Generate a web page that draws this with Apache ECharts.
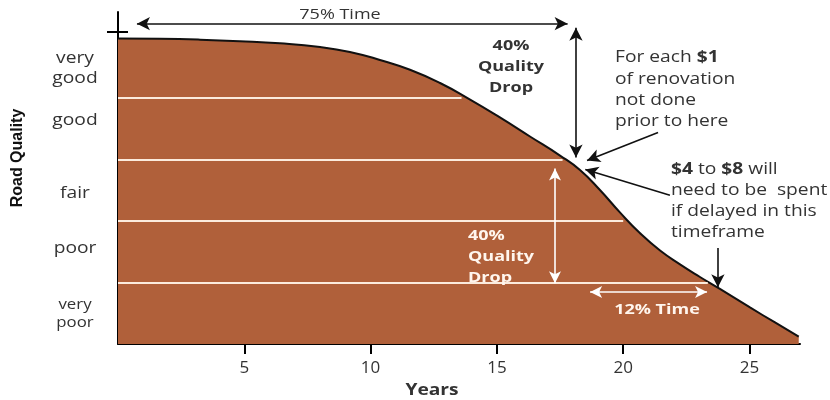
<!DOCTYPE html>
<html>
<head>
<meta charset="utf-8">
<script src="https://cdn.jsdelivr.net/npm/echarts@6/dist/echarts.min.js"></script>
<style>
  html, body { margin: 0; padding: 0; background: #fff; }
  #chart { width: 830px; height: 400px; }
</style>
</head>
<body>
<div id="chart"></div>
<script>
// Pavement deterioration curve: road quality over service years
const years   = [0, 1.66, 3.25, 4.83, 6.41, 8.0, 9.18, 10.37, 11.56, 12.75, 13.94, 15.12, 16.31, 17.5, 18.29, 19.08, 19.87, 20.67, 21.46, 22.25, 23.04, 23.83, 25.02, 26.01, 26.95];
const quality = [99.4, 99.3, 99.0, 98.5, 97.8, 96.6, 95.0, 92.4, 89.2, 84.9, 79.5, 73.7, 67.5, 61.3, 56.6, 50.1, 42.8, 36.0, 30.4, 25.9, 21.8, 17.9, 11.9, 7.0, 2.4];

// Quality bands (boundaries and where each boundary meets the curve)
const bandLevels = [80, 60, 40, 20];
const bandEnds   = [13.6, 17.6, 20.0, 23.35];

// Quality category names and their vertical position on the scale
const qualityLabels = ['very\ngood', 'good', 'fair', 'poor', 'very\npoor'];
const qualityLevels = [89.6, 72.7, 49, 31.2, 9.7];

const yearTicks = [5, 10, 15, 20, 25];

// Annotation arrows, [x1, y1, x2, y2] in data units
const timeSpan75   = [0.75, 104.2, 17.8, 104.2];
const dropSpanTop  = [18.13, 102.9, 18.13, 60.7];
const priorArrow   = [21.38, 68.8, 18.57, 59.7];
const delayArrow   = [21.85, 48.4, 18.5, 56.8];
const frameArrow   = [23.75, 31.2, 23.75, 18.5];
const dropSpanLow  = [17.3, 57.1, 17.3, 19.8];
const timeSpan12   = [18.69, 16.9, 23.32, 16.9];
const axisCross    = [0, 101.5];

const BROWN = '#B0603A';
const TEXT = '#333333';
const LIGHT = '#FFF6EE';
const FONT = '"Open Sans", sans-serif';
const WIDE = 1.2; // horizontal stretch of the annotation lettering

function seg(a, twoHeads) {
  return [
    { coord: [a[0], a[1]], symbol: twoHeads ? 'arrow' : 'none' },
    { coord: [a[2], a[3]], symbol: 'arrow' }
  ];
}

function note(x, y, text, font, fill, align, vAlign, extra) {
  return {
    type: 'text', x: x, y: y, scaleX: WIDE, z: 100, silent: true,
    style: Object.assign({ text: text, font: font, fill: fill, align: align, verticalAlign: vAlign }, extra || {})
  };
}

const chart = echarts.init(document.getElementById('chart'), null, { renderer: 'canvas' });

chart.setOption({
  animation: false,
  backgroundColor: '#ffffff',
  grid: { left: 118, right: 30, top: 12, bottom: 56 },
  xAxis: {
    type: 'value',
    min: 0, max: 27, interval: 5,
    axisLine: { lineStyle: { color: '#000', width: 2 } },
    axisTick: { show: true, length: 10, lineStyle: { color: '#000', width: 2 } },
    axisLabel: {
      margin: 16, color: TEXT, fontFamily: FONT, fontSize: 17,
      showMinLabel: false, showMaxLabel: false,
      formatter: v => (yearTicks.indexOf(v) >= 0 ? String(v) : '')
    },
    splitLine: { show: false }
  },
  yAxis: {
    type: 'value',
    min: 0, max: 108,
    axisLine: { show: true, lineStyle: { color: '#000', width: 2 } },
    axisTick: { show: false },
    axisLabel: { show: false },
    splitLine: { show: false }
  },
  series: [
    {
      name: 'Road Quality',
      type: 'line',
      data: years.map((x, i) => [x, quality[i]]),
      smooth: 0.5,
      symbol: 'none',
      lineStyle: { color: '#111', width: 2 },
      areaStyle: { color: BROWN, opacity: 1 },
      z: 2,
      markLine: {
        silent: true,
        symbol: 'none',
        label: { show: false },
        lineStyle: { color: '#FBEBDD', width: 2, type: 'solid' },
        data: bandLevels.map((lv, i) => [{ coord: [0, lv] }, { coord: [bandEnds[i], lv] }])
      }
    },
    {
      name: 'Black arrows',
      type: 'line',
      data: [],
      z: 5,
      markLine: {
        silent: true,
        symbolSize: [10, 13],
        label: { show: false },
        lineStyle: { color: '#111', width: 1.6, type: 'solid' },
        data: [
          seg(timeSpan75, true),
          seg(dropSpanTop, true),
          seg(priorArrow, false),
          seg(delayArrow, false),
          seg(frameArrow, false)
        ]
      }
    },
    {
      name: 'White arrows',
      type: 'line',
      data: [],
      z: 5,
      markLine: {
        silent: true,
        symbolSize: [9, 12],
        label: { show: false },
        lineStyle: { color: '#FFFFFF', width: 1.6, type: 'solid' },
        data: [
          seg(dropSpanLow, true),
          seg(timeSpan12, true)
        ]
      }
    },
    {
      name: 'Quality labels',
      type: 'custom',
      clip: false,
      silent: true,
      data: qualityLevels.map((v, i) => [0, v, i]),
      renderItem: (params, api) => {
        const idx = api.value(2);
        const p = api.coord([api.value(0), api.value(1)]);
        const small = idx === qualityLabels.length - 1;
        return {
          type: 'text',
          x: p[0] - 43, y: p[1], scaleX: WIDE,
          style: {
            text: qualityLabels[idx],
            font: (small ? 14 : 16) + 'px ' + FONT,
            lineHeight: small ? 18 : 20,
            fill: TEXT, align: 'center', verticalAlign: 'middle'
          }
        };
      },
      z: 6
    },
    {
      name: 'Axis cross',
      type: 'custom',
      clip: false,
      silent: true,
      data: [axisCross],
      renderItem: (params, api) => {
        const p = api.coord([api.value(0), api.value(1)]);
        return {
          type: 'line',
          shape: { x1: p[0] - 11, y1: p[1], x2: p[0] + 10, y2: p[1] },
          style: { stroke: '#000', lineWidth: 2 }
        };
      },
      z: 6
    }
  ],
  graphic: [
    note(340, 15, '75% Time', '15px ' + FONT, TEXT, 'center', 'middle'),
    note(511, 35, '40%\nQuality\nDrop', 'bold 15px ' + FONT, TEXT, 'center', 'top', { lineHeight: 21 }),
    note(615, 47, 'For each {b|$1}\nof renovation\nnot done\nprior to here', '16px ' + FONT, TEXT, 'left', 'top', {
      lineHeight: 21.3, rich: { b: { font: 'bold 16px ' + FONT, fill: TEXT, lineHeight: 21.3 } }
    }),
    note(671, 159, '{b|$4} to {b|$8} will\nneed to be  spent\nif delayed in this\ntimeframe', '16px ' + FONT, TEXT, 'left', 'top', {
      lineHeight: 21, rich: { b: { font: 'bold 16px ' + FONT, fill: TEXT, lineHeight: 21 } }
    }),
    note(468, 225, '40%\nQuality\nDrop', 'bold 15px ' + FONT, LIGHT, 'left', 'top', { lineHeight: 21 }),
    note(657, 310, '12% Time', 'bold 15px ' + FONT, LIGHT, 'center', 'middle'),
    note(432, 390, 'Years', 'bold 16px ' + FONT, TEXT, 'center', 'middle'),
    {
      type: 'text', x: 18, y: 158, rotation: Math.PI / 2, z: 100, silent: true,
      style: { text: 'Road Quality', font: 'bold 16px "Liberation Sans", Arial, sans-serif', fill: '#111', align: 'center', verticalAlign: 'middle' }
    }
  ]
});
</script>
</body>
</html>
